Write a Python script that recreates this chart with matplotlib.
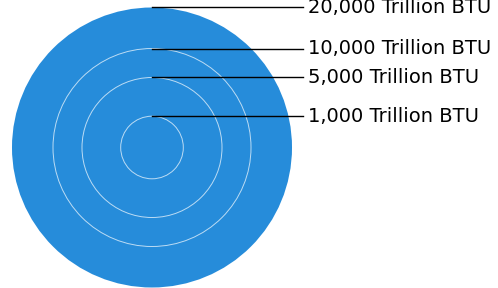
import numpy as np
import matplotlib
matplotlib.use("Agg")
import matplotlib.pyplot as plt
from matplotlib.patches import Circle

# legend of a proportional-circle map: circle area ~ value
values = [20000, 10000, 5000, 1000]
labels = ["20,000 Trillion BTU", "10,000 Trillion BTU",
          "5,000 Trillion BTU", "1,000 Trillion BTU"]

W, H = 498, 288
fig = plt.figure(figsize=(W / 100, H / 100), dpi=100)
ax = fig.add_axes([0, 0, 1, 1])
ax.set_xlim(0, W)
ax.set_ylim(H, 0)
ax.set_aspect("equal")
ax.axis("off")

cx, cy = 152, 147.5
scale = 0.99  # px per sqrt(unit)
line_end = 303
blue = "#268cda"

radii = [scale * np.sqrt(v) for v in values]

# big filled circle for the largest value
ax.add_patch(Circle((cx, cy), radii[0], facecolor=blue, edgecolor="none", zorder=1))
# thin light rings for the smaller ones
for r in radii[1:]:
    ax.add_patch(Circle((cx, cy), r, facecolor="none", edgecolor="#bcdcf4",
                        linewidth=0.7, zorder=2))

for r, lab in zip(radii, labels):
    y = cy - r
    ax.plot([cx, line_end], [y, y], color="black", linewidth=1.0, zorder=3)
    ax.text(line_end + 5, y, lab, fontsize=14, family="DejaVu Sans",
            color="black", va="center", ha="left", zorder=4)

fig.savefig("out.png", dpi=100)
